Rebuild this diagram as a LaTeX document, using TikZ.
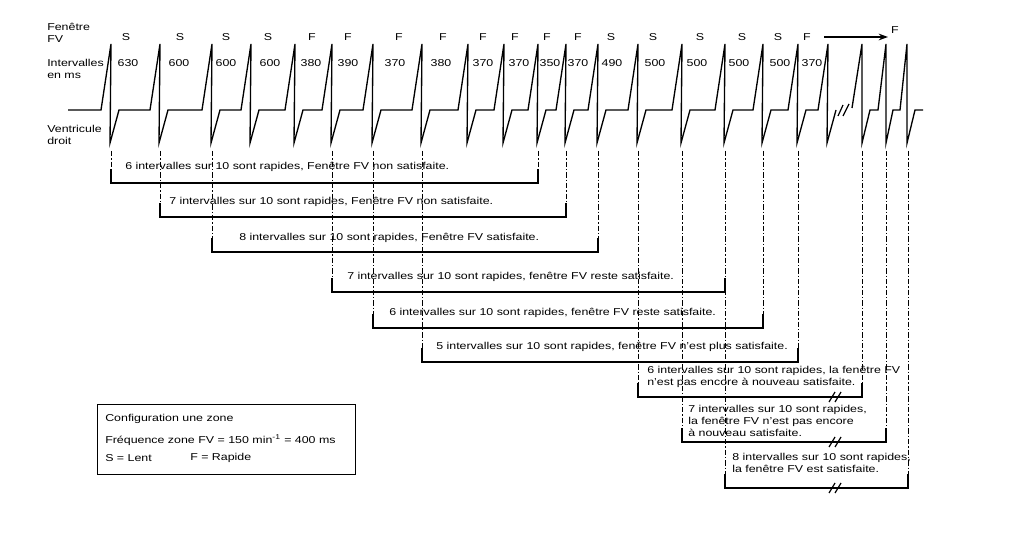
\documentclass[tikz,border=0pt]{standalone}
\usepackage{fontspec}
\setmainfont{Liberation Sans}[FakeStretch=1.24]
\usetikzlibrary{arrows.meta}
\begin{document}
\begin{tikzpicture}[x=0.75pt,y=-0.75pt,
  wave/.style={line width=1pt, line join=miter},
  vline/.style={line width=0.75pt, dash pattern=on 4pt off 1.5pt on 1pt off 1.5pt},
  brk/.style={line width=0.9pt},
  lbl/.style={font=\fontsize{7.5}{8.8}\selectfont, inner sep=0pt},
  txt/.style={lbl, anchor=west, align=left},
  hdr/.style={lbl},
]
\useasboundingbox (0,0) rectangle (1013,545);

% left labels
\node[txt] (lfv) at (47,33) {Fenêtre\\FV};
\node[txt] (lint) at (47,69) {Intervalles\\en ms};
\node[txt] (lvd) at (47,135) {Ventricule\\droit};

% waveform
\draw[wave] (68,110)
  \foreach \p in {111,160,212,251,295,332,373,422,468,504,538,566,598,638,682,725,763,798,828}
  { -- (\p-10,110) -- (\p,44) -- (\p-1,143) -- (\p+8,110) };
\draw[wave] (852,108) -- (862,44) -- (862,143) -- (870,110) -- (878,110)
  -- (886,44) -- (886,143) -- (893,110) -- (900,110) -- (907,44) -- (907,143)
  -- (915,110) -- (923,110);
\draw[brk] (838,116) -- (843,105) (843,116) -- (849,104);

% S/F labels
\foreach \x/\t [count=\i] in {126/S,180/S,226/S,268/S,312/F,348/F,399/F,443/F,483/F,515/F,547/F,578/F,611/S,653/S,700/S,742/S,778/S,807/F}
  \node[hdr] (sf\i) at (\x,37) {\t};
% intervals
\foreach \x/\t [count=\i] in {128/630,179/600,226/600,270/600,311/380,348/390,395/370,441/380,483/370,519/370,550/350,578/370,612/490,655/500,697/500,739/500,780/500,812/370}
  \node[hdr] (iv\i) at (\x,63) {\t};

% arrow
\coordinate (a1) at (824,37);
\coordinate (a2) at (888,37);
\draw[line width=1.5pt,-{Stealth[length=7pt,width=5pt]}] (a1) -- (a2);
\node[hdr] (fend) at (895,30) {F};

% vertical dash-dot lines
\foreach \x/\b [count=\i] in {111/183,160/217,212/252,332/292,373/328,422/362,538/183,566/217,598/252,638/397,682/442,725/488,763/328,798/362,862/397,886/442,908/488}
{
  \coordinate (vt\i) at (\x,151);
  \coordinate (vb\i) at (\x,\b);
  \draw[vline] (vt\i) -- (vb\i);
}

% brackets
\foreach \l/\r/\b in {111/538/183,160/566/217,212/598/252,332/725/292,373/763/328,422/798/362,638/862/397,682/886/442,725/908/488}
  \draw[brk] (\l,\b-14) -- (\l,\b) -- (\r,\b) -- (\r,\b-14);

% break marks on the long brackets
\foreach \b in {397,442,488}
  \draw[brk] (829,\b+5) -- (835,\b-5) (835,\b+5) -- (841,\b-5);

% bracket texts
\node[txt] (t1) at (125,167) {6 intervalles sur 10 sont rapides, Fenêtre FV non satisfaite.};
\node[txt] (t2) at (169,202) {7 intervalles sur 10 sont rapides, Fenêtre FV non satisfaite.};
\node[txt] (t3) at (239,238) {8 intervalles sur 10 sont rapides, Fenêtre FV satisfaite.};
\node[txt] (t4) at (347,277) {7 intervalles sur 10 sont rapides, fenêtre FV reste satisfaite.};
\node[txt] (t5) at (389,313) {6 intervalles sur 10 sont rapides, fenêtre FV reste satisfaite.};
\node[txt] (t6) at (436,347) {5 intervalles sur 10 sont rapides, fenêtre FV n’est plus satisfaite.};
\node[txt] (t7) at (647,377) {6 intervalles sur 10 sont rapides, la fenêtre FV\\n’est pas encore à nouveau satisfaite.};
\node[txt] (t8) at (688,421) {7 intervalles sur 10 sont rapides,\\la fenêtre FV n’est pas encore\\à nouveau satisfaite.};
\node[txt] (t9) at (732,463) {8 intervalles sur 10 sont rapides,\\la fenêtre FV est satisfaite.};

% legend
\draw[line width=0.75pt] (97,404) rectangle (355,474);
\node[txt] (g1) at (105,419) {Configuration une zone};
\node[txt] (g2) at (105,440) {Fréquence zone FV = 150 min\textsuperscript{-1} = 400 ms};
\node[txt] (g3) at (105,458) {S = Lent};
\node[txt] (g4) at (190,458) {F = Rapide};
\end{tikzpicture}
\end{document}
